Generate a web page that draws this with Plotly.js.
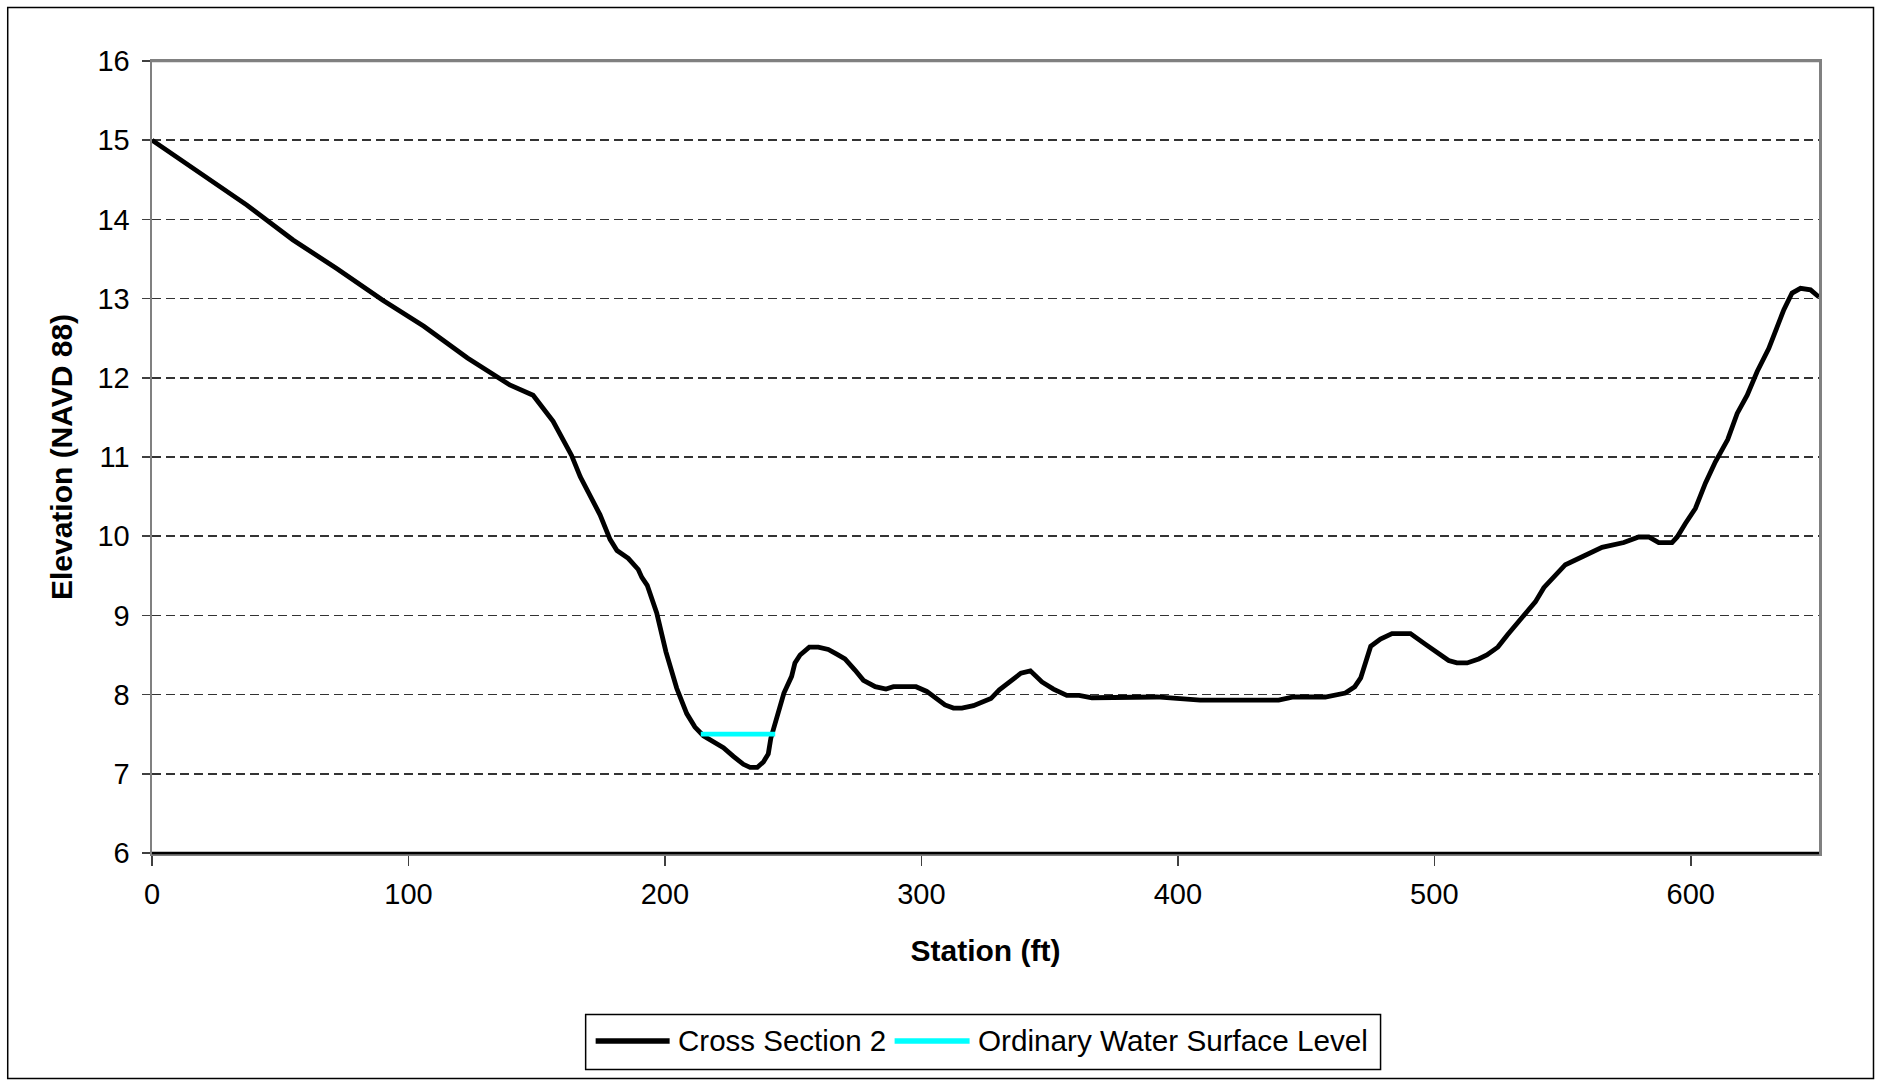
<!DOCTYPE html>
<html>
<head>
<meta charset="utf-8">
<script src="https://cdn.plot.ly/plotly-3.0.1.min.js"></script>
<style>
  html, body { margin: 0; padding: 0; background: #ffffff; }
  #chart { width: 1877px; height: 1080px; }
</style>
</head>
<body>
<div id="chart"></div>
<script>
// Surveyed ground profile, Cross Section 2 (station in ft, elevation in ft NAVD 88)
const station = [
  0, 20, 37, 55, 72, 90, 106, 123, 139.5, 148.6,
  156.4, 163.6, 167, 174.7, 178.6, 181.3, 185.7, 189.6, 191, 193.1,
  196.8, 200.4, 204.6, 208.5, 211.7, 215, 218.9, 222.8, 226.7, 230.6,
  233.2, 236, 238.4, 240.3, 241.3, 243.6, 246.4, 249.4, 250.7, 252.7,
  256.3, 259.8, 263.7, 267, 270.2, 274.1, 277.4, 282, 286.2, 289.1,
  297.9, 302.1, 305.3, 309.2, 312.5, 315.8, 320.3, 323.6, 327.1, 330.4,
  334.6, 338.8, 342.5, 347, 351.5, 356.7, 361.5, 366.5, 391.8, 408.7,
  439.3, 445.1, 457.5, 465.3, 469, 471.3, 475.2, 479, 483.5, 490.7,
  496.3, 502.4, 505.6, 508.8, 512.8, 517.3, 520.5, 524.8, 528.4, 536.2,
  539.4, 542.7, 546.6, 551.1, 558.3, 565.4, 573.9, 579.7, 583.6, 587.5,
  592.7, 594.7, 597.9, 601.8, 605.7, 609.6, 614.4, 618.1, 622, 625.9,
  630.4, 633.7, 636.3, 639.5, 642.8, 646.7, 650
];
const elevation = [
  15.0, 14.56, 14.18, 13.74, 13.38, 12.98, 12.65, 12.25, 11.91, 11.78,
  11.45, 11.02, 10.75, 10.27, 9.96, 9.82, 9.72, 9.58, 9.48, 9.38,
  9.03, 8.54, 8.08, 7.76, 7.59, 7.48, 7.41, 7.33, 7.22, 7.12,
  7.08, 7.08, 7.15, 7.25, 7.45, 7.70, 8.02, 8.23, 8.40, 8.50,
  8.60, 8.60, 8.57, 8.51, 8.45, 8.31, 8.18, 8.10, 8.07, 8.10,
  8.10, 8.04, 7.97, 7.87, 7.83, 7.83, 7.86, 7.90, 7.95, 8.06,
  8.16, 8.27, 8.30, 8.16, 8.07, 7.99, 7.99, 7.96, 7.97, 7.93,
  7.93, 7.97, 7.97, 8.02, 8.10, 8.21, 8.61, 8.70, 8.77, 8.77,
  8.64, 8.49, 8.43, 8.40, 8.40, 8.45, 8.50, 8.60, 8.75, 9.05,
  9.17, 9.35, 9.49, 9.64, 9.75, 9.86, 9.92, 9.99, 9.99, 9.92,
  9.92, 9.99, 10.16, 10.35, 10.67, 10.94, 11.22, 11.55, 11.78, 12.08,
  12.37, 12.65, 12.86, 13.07, 13.13, 13.11, 13.02
];

// Ordinary water surface across the low-flow channel
const owsStation = [214, 243];
const owsElevation = [7.5, 7.5];

// Axis ticks
const xTicks = [0, 100, 200, 300, 400, 500, 600];
const yTicks = [6, 7, 8, 9, 10, 11, 12, 13, 14, 15, 16];

const seriesNames = ['Cross Section 2', 'Ordinary Water Surface Level'];
const seriesColors = ['#000000', '#00ffff'];

const FONT = 'Liberation Sans, Arial, sans-serif';

// Plot-area geometry in pixels, used to place the frame and legend box
const W = 1877, H = 1080;
const L = 152.3, R = 1819.5, T = 61, B = 853;
const px = x => (x - L) / (R - L);
const py = y => (B - y) / (B - T);

const traces = [
  {
    x: station, y: elevation, type: 'scatter', mode: 'lines',
    name: seriesNames[0], showlegend: false,
    line: { color: seriesColors[0], width: 4.8, shape: 'linear' },
    cliponaxis: false, hoverinfo: 'x+y'
  },
  {
    x: owsStation, y: owsElevation, type: 'scatter', mode: 'lines',
    name: seriesNames[1], showlegend: false,
    line: { color: seriesColors[1], width: 4.8 },
    hoverinfo: 'x+y'
  }
];

// Legend drawn as a boxed row with long line samples
const legendY = 1040;
const shapes = [
  // chart frame
  { type: 'rect', xref: 'paper', yref: 'paper', x0: px(8), x1: px(1874), y0: py(7.5), y1: py(1078.5),
    line: { color: '#000000', width: 1.5 }, fillcolor: 'rgba(0,0,0,0)', layer: 'below' },
  // plot-area top and bottom edges
  { type: 'line', xref: 'paper', yref: 'paper', x0: 0, x1: 1, y0: 1, y1: 1,
    line: { color: '#808080', width: 2.5 }, layer: 'above' },
  { type: 'line', xref: 'paper', yref: 'paper', x0: 0, x1: 1, y0: 0, y1: 0,
    line: { color: '#000000', width: 2.5 }, layer: 'above' },
  // legend box
  { type: 'rect', xref: 'paper', yref: 'paper', x0: px(586), x1: px(1381), y0: py(1014.5), y1: py(1069.5),
    line: { color: '#000000', width: 1.5 }, fillcolor: '#ffffff', layer: 'below' },
  // legend samples
  { type: 'line', xref: 'paper', yref: 'paper', x0: px(596), x1: px(670), y0: py(legendY + 1), y1: py(legendY + 1),
    line: { color: seriesColors[0], width: 5.5 } },
  { type: 'line', xref: 'paper', yref: 'paper', x0: px(895), x1: px(970), y0: py(legendY + 1), y1: py(legendY + 1),
    line: { color: seriesColors[1], width: 5.5 } }
];

const annotations = [
  { xref: 'paper', yref: 'paper', x: px(676), y: py(legendY), xanchor: 'left', yanchor: 'middle',
    text: seriesNames[0], showarrow: false, font: { family: FONT, size: 29.5, color: '#000000' } },
  { xref: 'paper', yref: 'paper', x: px(976), y: py(legendY), xanchor: 'left', yanchor: 'middle',
    text: seriesNames[1], showarrow: false, font: { family: FONT, size: 29.7, color: '#000000' } }
];

const layout = {
  width: W, height: H,
  paper_bgcolor: '#ffffff', plot_bgcolor: '#ffffff',
  margin: { l: L, r: W - R, t: T, b: H - B, pad: 0 },
  showlegend: false,
  font: { family: FONT, size: 29, color: '#000000' },
  xaxis: {
    range: [0, 650], tickvals: xTicks, ticktext: xTicks.map(String),
    showgrid: false, zeroline: false,
    showline: true, linecolor: '#808080', linewidth: 2.5, mirror: true,
    ticks: 'outside', ticklen: 10, tickwidth: 1.5, tickcolor: '#404040',
    ticklabelstandoff: 4,
    tickfont: { family: FONT, size: 29, color: '#000000' },
    title: { text: 'Station (ft)', font: { family: FONT, size: 30, color: '#000000', weight: 'bold' }, standoff: 31 }
  },
  yaxis: {
    range: [6, 16], tickvals: yTicks, ticktext: yTicks.map(String),
    showgrid: true, gridcolor: '#333333', gridwidth: 1.5, griddash: '9px,5px',
    zeroline: false,
    showline: true, linecolor: '#808080', linewidth: 2.5, mirror: true,
    ticks: 'outside', ticklen: 8, tickwidth: 1.5, tickcolor: '#404040',
    ticklabelstandoff: 6,
    tickfont: { family: FONT, size: 29, color: '#000000' },
    title: { text: 'Elevation (NAVD 88)', font: { family: FONT, size: 30, color: '#000000', weight: 'bold' }, standoff: 16 }
  },
  shapes: shapes,
  annotations: annotations
};

Plotly.newPlot('chart', traces, layout, { displayModeBar: false, staticPlot: true });
</script>
</body>
</html>
